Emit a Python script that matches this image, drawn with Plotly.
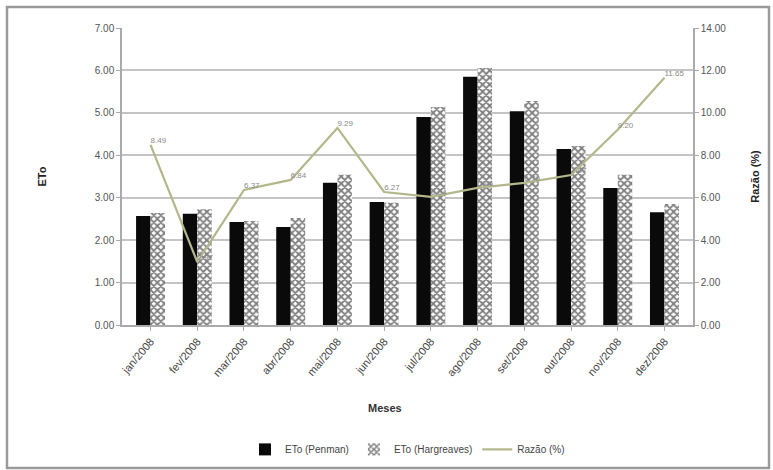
import plotly.graph_objects as go

# Monthly data
meses = ["jan/2008", "fev/2008", "mar/2008", "abr/2008", "mai/2008", "jun/2008",
         "jul/2008", "ago/2008", "set/2008", "out/2008", "nov/2008", "dez/2008"]
eto_penman = [2.57, 2.62, 2.43, 2.31, 3.35, 2.90, 4.90, 5.85, 5.04, 4.15, 3.23, 2.66]
eto_hargreaves = [2.64, 2.73, 2.45, 2.52, 3.54, 2.88, 5.14, 6.06, 5.28, 4.22, 3.54, 2.85]
razao = [8.49, 2.97, 6.37, 6.84, 9.29, 6.27, 6.04, 6.46, 6.70, 7.07, 9.20, 11.65]

font_family = "Liberation Sans, Arial, sans-serif"
grid_col = "#c4c4c4"
tick_col = "#555555"

fig = go.Figure()

fig.add_trace(go.Bar(
    x=meses, y=eto_penman, name="ETo (Penman)",
    marker=dict(color="#0a0a0a", line=dict(width=0)),
))
fig.add_trace(go.Bar(
    x=meses, y=eto_hargreaves, name="ETo (Hargreaves)",
    marker=dict(color="#ffffff",
                line=dict(width=0),
                pattern=dict(shape="x", size=5, solidity=0.6,
                             fgcolor="#000000", bgcolor="#ffffff")),
))
fig.add_trace(go.Scatter(
    x=meses, y=razao, name="Razão (%)", yaxis="y2",
    mode="lines+text",
    line=dict(color="#b3b78a", width=2.2),
    text=[f"{v:.2f}" for v in razao],
    textposition="top right",
    textfont=dict(size=8, color="#8a8a8a", family=font_family),
))

fig.update_layout(
    width=773, height=470,
    margin=dict(l=122, r=80, t=28, b=145, autoexpand=False),
    paper_bgcolor="white", plot_bgcolor="white",
    font=dict(family=font_family, size=10, color=tick_col),
    barmode="group", bargap=0.38, bargroupgap=0.0,
    showlegend=True,
    legend=dict(orientation="h", x=0.5, xanchor="center",
                y=-0.37, yanchor="top",
                font=dict(size=10, color="#444444"),
                itemwidth=30, traceorder="normal"),
    xaxis=dict(
        automargin=False,
        tickangle=-50, showgrid=False,
        showline=True, linecolor="#aaaaaa", linewidth=1.5,
        ticks="outside", tickcolor="#aaaaaa", ticklen=4,
        tickfont=dict(size=11, color="#444444"),
    ),
    yaxis=dict(
        automargin=False,
        title=dict(text="<b>ETo</b>", font=dict(size=11, color="#222222"),
                   standoff=46),
        range=[0, 7], dtick=1, tickformat=".2f",
        showgrid=True, gridcolor=grid_col, gridwidth=1.5,
        showline=True, linecolor="#aaaaaa", linewidth=1.5,
        ticks="outside", tickcolor="#aaaaaa", ticklen=4,
        zeroline=False,
    ),
    yaxis2=dict(
        automargin=False,
        title=dict(text="<b>Razão (%)</b>", font=dict(size=11, color="#222222"),
                   standoff=26),
        overlaying="y", side="right",
        range=[0, 14], dtick=2, tickformat=".2f",
        showgrid=False,
        showline=True, linecolor="#aaaaaa", linewidth=1.5,
        ticks="outside", tickcolor="#aaaaaa", ticklen=4,
        zeroline=False,
    ),
    annotations=[dict(text="<b>Meses</b>", xref="paper", yref="paper",
                      x=0.46, y=(325 - 408) / 297, showarrow=False,
                      xanchor="center", yanchor="middle",
                      font=dict(size=11, color="#333333"))],
    shapes=[dict(type="rect", xref="paper", yref="paper",
                 x0=(7 - 122) / 571, x1=(769 - 122) / 571,
                 y0=(325 - 468) / 297, y1=(325 - 7) / 297,
                 line=dict(color="#9a9a9a", width=2.5), layer="below")],
)

fig.write_html("out.html")
